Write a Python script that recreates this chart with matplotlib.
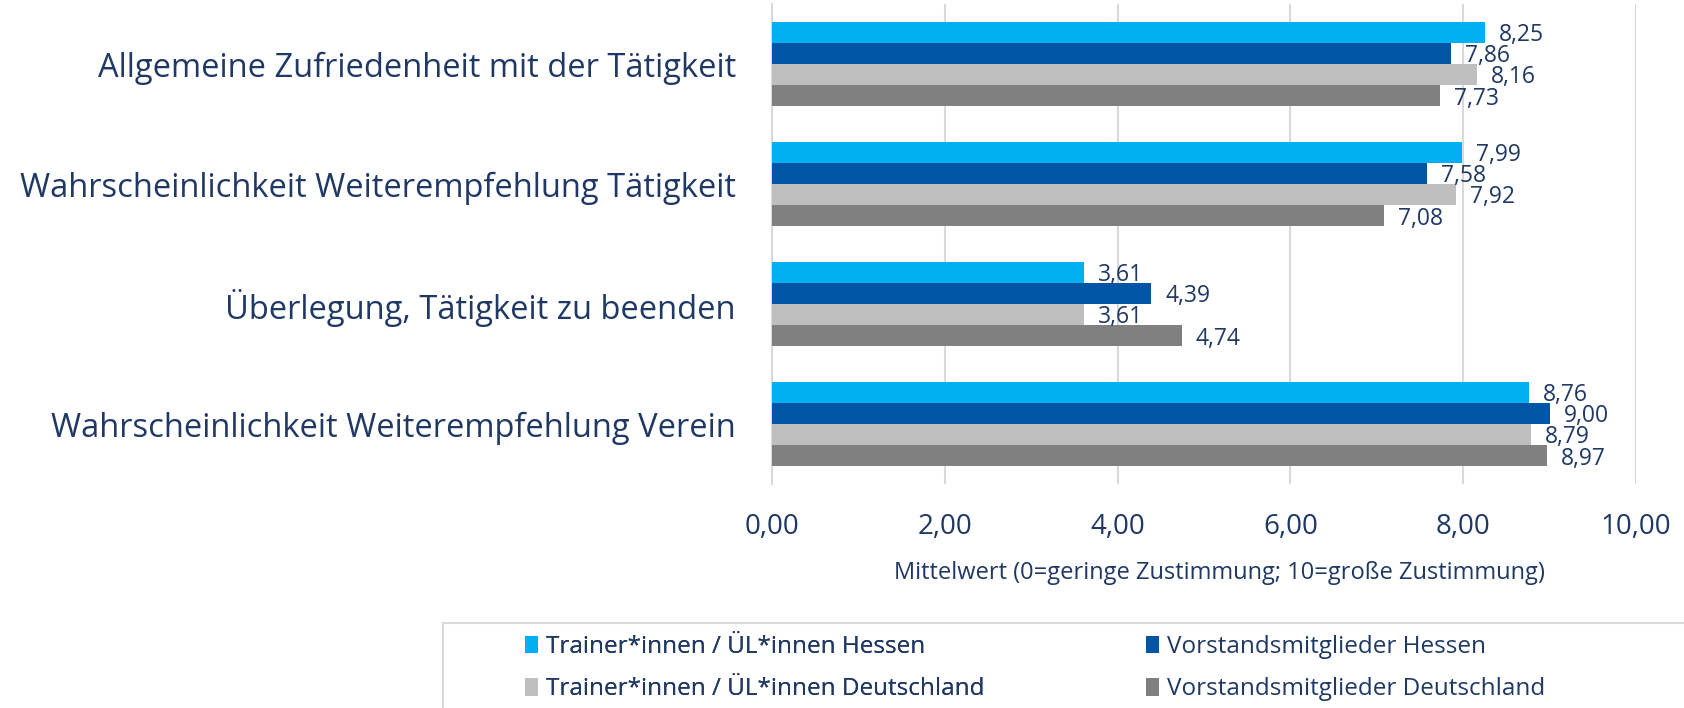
import numpy as np
import matplotlib.pyplot as plt
from matplotlib.patches import Rectangle

plt.rcParams['font.family'] = ['Open Sans', 'DejaVu Sans']

categories = [
    "Allgemeine Zufriedenheit mit der Tätigkeit",
    "Wahrscheinlichkeit Weiterempfehlung Tätigkeit",
    "Überlegung, Tätigkeit zu beenden",
    "Wahrscheinlichkeit Weiterempfehlung Verein",
]
series_names = [
    "Trainer*innen / ÜL*innen Hessen",
    "Vorstandsmitglieder Hessen",
    "Trainer*innen / ÜL*innen Deutschland",
    "Vorstandsmitglieder Deutschland",
]
trainer_hessen = [8.25, 7.99, 3.61, 8.76]
vorstand_hessen = [7.86, 7.58, 4.39, 9.00]
trainer_de = [8.16, 7.92, 3.61, 8.79]
vorstand_de = [7.73, 7.08, 4.74, 8.97]
ticks = [0, 2, 4, 6, 8, 10]

colors = ["#00B0F0", "#0055A5", "#BFBFBF", "#808080"]
navy = "#1F3864"
grid = "#D9D9D9"

W, H = 1684, 708
fig = plt.figure(figsize=(W / 100, H / 100), dpi=100)
ax = fig.add_axes([772 / W, 1 - 484 / H, (1636 - 772) / W, 480 / H])

y = np.arange(len(categories))
h = 0.177
bars = []
for i, vals in enumerate([trainer_hessen, vorstand_hessen, trainer_de, vorstand_de]):
    pos = y + (i - 1.5) * h
    b = ax.barh(pos, vals, height=h, color=colors[i], label=series_names[i], zorder=3)
    bars.append(b)
    for v, p in zip(vals, pos):
        ax.annotate(f"{v:.2f}".replace(".", ","), (v, p), xytext=(10, -2),
                    textcoords="offset points", va="center", ha="left",
                    fontsize=16.5, color=navy, zorder=4)

ax.set_xlim(0, 10)
ax.set_ylim(3.5, -0.5)
ax.set_xticks(ticks)
ax.set_xticklabels([f"{t:.2f}".replace(".", ",") for t in ticks], fontsize=20, color=navy)
ax.set_yticks(y)
ax.set_yticklabels(categories, fontsize=23.5, color=navy)
ax.tick_params(axis="x", length=0, pad=21)
ax.tick_params(axis="y", length=0, pad=26)
ax.grid(axis="x", color=grid, lw=1.5, zorder=0)
for s in ["top", "right", "bottom"]:
    ax.spines[s].set_visible(False)
ax.spines["left"].set_color(grid)
ax.spines["left"].set_linewidth(1.5)

ax.set_xlabel("Mittelwert (0=geringe Zustimmung; 10=große Zustimmung)",
              fontsize=17, color=navy, va="center")
ax.xaxis.set_label_coords((1219 - 772) / 864, -(573 - 484) / 480)

# legend box, cut off at the right and bottom edge like the original
fig.add_artist(Rectangle((443 / W, -0.1), 1, 0.1 + (708 - 623) / H,
                         transform=fig.transFigure, fill=False,
                         edgecolor=grid, lw=1.5))

leg_kw = dict(frameon=False, fontsize=17.5, labelcolor=navy, handlelength=0.55,
              handleheight=0.75, handletextpad=0.3, labelspacing=0.75,
              borderpad=0, borderaxespad=0, loc="center left")
leg1 = fig.legend([bars[0], bars[2]], [series_names[0], series_names[2]],
                  bbox_to_anchor=(525 / W, 1 - 668 / H), **leg_kw)
fig.add_artist(leg1)
fig.legend([bars[1], bars[3]], [series_names[1], series_names[3]],
           bbox_to_anchor=(1146 / W, 1 - 668 / H), **leg_kw)

fig.savefig("out.png", dpi=100)
